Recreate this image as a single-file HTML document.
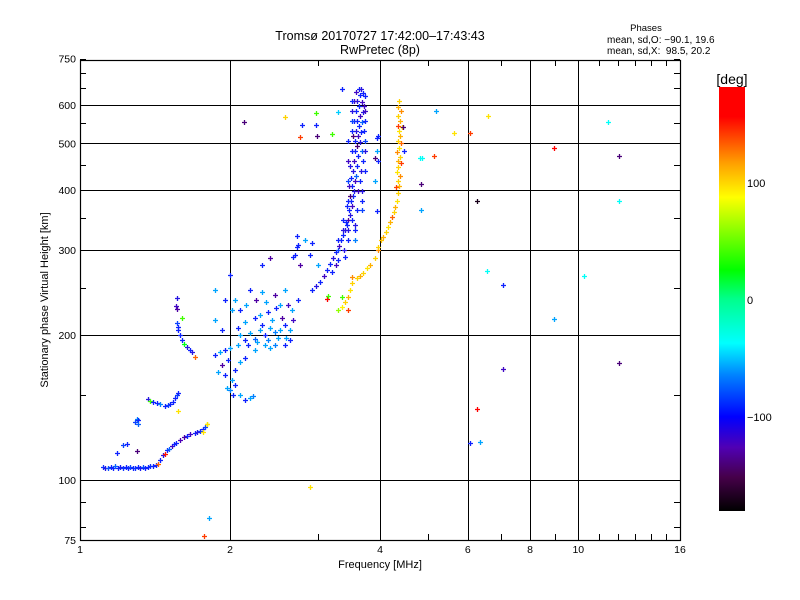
<!DOCTYPE html>
<html><head><meta charset="utf-8"><title>Ionogram</title>
<style>
html,body{margin:0;padding:0;background:#fff;}
svg{display:block;font-family:"Liberation Sans",sans-serif;}
</style></head>
<body>
<svg id="chart" width="800" height="600" viewBox="0 0 800 600">
  <defs>
    <linearGradient id="cbgrad" x1="0" y1="0" x2="0" y2="1">
      <stop offset="0" stop-color="#ff0000"/>
      <stop offset="0.07" stop-color="#ff0000"/>
      <stop offset="0.18" stop-color="#ffa000"/>
      <stop offset="0.26" stop-color="#ffff00"/>
      <stop offset="0.432" stop-color="#00ff00"/>
      <stop offset="0.5" stop-color="#00ff8c"/>
      <stop offset="0.604" stop-color="#00ffff"/>
      <stop offset="0.68" stop-color="#0082ff"/>
      <stop offset="0.778" stop-color="#0000ff"/>
      <stop offset="0.85" stop-color="#5000b4"/>
      <stop offset="0.92" stop-color="#46004a"/>
      <stop offset="1" stop-color="#000000"/>
    </linearGradient>
  </defs>
  <rect x="0" y="0" width="800" height="600" fill="#fff"/>
  <text x="380" y="40" font-size="12.5" text-anchor="middle">Tromsø 20170727 17:42:00–17:43:43</text>
  <text x="380" y="54" font-size="12.5" text-anchor="middle">RwPretec (8p)</text>
  <text x="646" y="31" font-size="9.5" text-anchor="middle">Phases</text>
  <text x="607" y="43" font-size="10">mean, sd,O: −90.1, 19.6</text>
  <text x="607" y="54" font-size="10" xml:space="preserve">mean, sd,X:  98.5, 20.2</text>
  <g id="grid"></g>
  <g id="marks"></g>
  <rect x="80.5" y="60.5" width="600" height="480" fill="none" stroke="#000" stroke-width="1.2"/>
  <g id="axes"></g>
  <text x="380" y="568" font-size="11" text-anchor="middle">Frequency [MHz]</text>
  <text x="0" y="0" font-size="11" text-anchor="middle" transform="translate(48,300) rotate(-90)">Stationary phase Virtual Height [km]</text>
  <rect x="719" y="87" width="26" height="424" fill="url(#cbgrad)"/>
  <text x="732" y="84" font-size="14" text-anchor="middle">[deg]</text>
  <g id="cbticks"></g>
</svg>
<script>
// ---- axis tick data ----
const xTickLabels = [1, 2, 4, 6, 8, 10, 16];
const xGridValues = [2, 4, 6, 8, 10];
const yTickLabels = [75, 100, 200, 300, 400, 500, 600, 750];
const yGridValues = [100, 200, 300, 400, 500, 600];
const cbTickValues = [100, 0, -100];

// ---- data: bottom O trace ----
const g1Freq = [1.112,1.125,1.138,1.152,1.165,1.178,1.192,1.205,1.22,1.234,1.248,1.262,1.277,1.292,1.307,1.322,1.338,1.353,1.369,1.385,1.401,1.418,1.434,1.447,1.468,1.48,1.495,1.51,1.53,1.545,1.557,1.587,1.62,1.64,1.661,1.701,1.72,1.741,1.762,1.782,1.8,1.187,1.22,1.24,1.30,1.765,1.80];
const g1Height = [106.5,106,106,106.5,106,107,106,106.5,106,106.5,106,106.5,106,106,106.5,106,106.5,106,106.5,107,107,107.5,108,110,112.7,113.5,115.4,116,117.6,118.5,119.3,121,122.8,123.5,124.6,125.2,125.8,126.3,127.5,128.8,131,114,118,119,115,125.8,130.7];
const g1Phase = [-95,-110,-85,-100,-100,-80,-100,-105,-95,-100,-100,-90,-100,-95,-100,-105,-85,-100,-100,-95,-100,-100,130,-100,-110,150,-100,-80,-120,-100,-100,-125,-130,-100,-120,-100,-110,-95,-100,-90,60,-100,-90,-100,-140,95,95];

// ---- data: second trace and 1.5 MHz curve ----
const g2Freq = [1.29,1.30,1.307,1.31,1.369,1.385,1.40,1.427,1.45,1.48,1.50,1.516,1.535,1.551,1.565,1.572,1.573,1.566,1.56,1.566,1.57,1.573,1.59,1.602,1.62,1.64,1.66,1.678,1.701,1.566,1.602];
const g2Height = [132,134,133,131,147,146,145.5,144.5,144,142.5,143,143.8,145.5,148,150,151.6,139,239,230,211.8,208,204.8,200,195.3,192,188.8,186,184.4,180,227,217];
const g2Phase = [-90,-70,-100,-80,-110,40,-100,-100,-70,-100,-90,-100,-100,-100,-90,-100,95,-110,-120,-90,-100,-100,-100,-100,20,-110,-100,-110,130,-130,40];

// ---- data: 2-3 MHz cluster ----
const g3Freq = [2.095,2.145,2.195,2.247,2.297,2.352,2.408,2.464,2.52,2.58,2.64,2.676,2.175,2.27,2.386,2.5,2.59,2.32,2.43,2.545,2.247,2.145,2.076,2.66,2.615,2.475,2.363,2.257,2.155,2.095,2.047,2.195,2.32,2.464,2.58,2.74,1.866,1.911,1.956,2.0,1.98,1.93,1.89,1.956,2.02,2.047,2.0,2.095,2.145,2.195,2.225,2.047,2.095,2.145,2.03,1.975,2.0,1.866,1.956,2.02,2.32,2.408,2.70,2.74,2.83,2.765,2.898,3.0,1.866,1.93,2.352,2.464,2.58,2.247,2.408,2.64,2.297,2.52,2.386,2.076];
const g3Height = [199.8,195.1,202,196.5,204.6,199.8,206.6,202.6,204.6,209.6,204.6,214.6,190.5,193.2,195.1,197,197,209.6,214.6,216.7,216.7,212.5,206.6,225.1,230.5,227.3,233.8,236.1,230.5,225.1,236.1,247.6,245.2,241.8,247.6,236.1,181.7,184.3,186,187.8,177.4,173.2,167.5,165.1,161.3,157.5,153.8,150.1,146.6,148,149.4,169.1,175.6,179,150.1,155,266,247.6,236.1,225.1,279,288.8,292.6,306.9,314.3,279,292.6,279,214.6,204.6,190.5,190.5,190.5,186,187.8,195.1,219.8,230.5,222.9,190.5];
const g3Phase = [-60,-100,-60,-80,-60,-100,-60,-70,-60,-100,-60,-120,-100,-60,-70,-60,-60,-100,-60,-130,-100,-60,-100,-60,-120,-100,-60,-130,-60,-100,-60,-100,-60,-130,-60,-100,-100,-60,-100,-60,-100,-130,-60,-100,-60,-100,-70,-60,-100,-60,-70,-100,-60,-100,-100,-60,-100,-60,-100,-60,-100,-130,-100,-100,-60,-130,-100,-60,-60,-100,-60,-70,-100,-60,-60,-100,-60,-60,-100,-60];

// ---- data: main O trace ----
const g4Freq = [2.922,2.976,3.031,3.088,3.131,3.175,3.22,3.265,3.31,3.34,3.371,3.403,3.434,3.45,3.418,3.482,3.466,3.514,3.498,3.531,3.482,3.547,3.514,3.563,3.498,3.58,3.531,3.597,3.547,3.613,3.563,3.597,3.647,3.563,3.613,3.664,3.58,3.63,3.68,3.597,3.647,3.698,3.58,3.63,3.68,3.597,3.647,3.698,3.58,3.63,3.664,3.434,3.466,3.482,3.514,3.531,3.547,3.547,3.68,3.698,3.664,3.715,3.715,3.73,3.45,3.387,3.294,3.265,3.204,3.563,3.597,3.613,3.647,
  3.514,3.514,3.514,3.514,3.73,3.73,3.73,3.73,3.73,3.45,3.45,3.45,3.45,3.68,3.68,3.68,3.371,3.371,3.294,3.294,3.563,3.563,3.45,3.514,3.4];
const g4Height = [247.6,252.8,257.7,265.2,272.4,280.9,289,297.3,306,314.3,321.9,329.7,337.6,345.8,342.5,354.1,362.7,371.4,380.4,389.6,389.6,399,408.6,418.5,423.7,428.6,438.9,449.5,460.4,471.5,482.9,494.5,503,506.5,518.7,527.8,531.2,544.1,553.7,557.2,570.7,580.8,584.4,598.6,609.3,613,629.8,636,639,648.5,649,371.4,408.6,449.5,482.9,518.7,557.2,613,482.9,460.4,438.9,531.2,598.6,627.8,314.3,299.7,285.7,279,270.3,337.6,362.7,399,418.5,
  613,584.4,557.2,531.2,584.4,557.2,506.5,482.9,438.9,506.5,460.4,418.5,380.4,399,380.4,362.7,345.8,329.7,314.3,299.7,329.7,314.3,329.7,345.8,290];
const g4Phase = [-100,-110,-100,-120,-100,-100,-110,-100,-120,-100,-100,-110,-100,-130,-100,-110,-100,-120,-100,-100,-140,-110,-100,-120,-100,-80,-110,-100,-120,-100,-100,-140,-110,-100,-120,-100,-110,-100,-80,-100,-120,-110,-100,-100,-120,-110,-100,-100,-120,-100,-110,-100,-120,-110,-100,-140,-100,-120,-80,-100,-110,-100,-120,-100,-100,-110,-100,-120,-100,-110,-100,-120,-100,
  -100,-110,-90,-100,-120,-100,-90,-110,-100,-100,-120,-90,-100,-110,-100,-90,-100,-110,-100,-90,-100,-70,-110,-100,-100];

// ---- data: X trace ----
const g5Freq = [3.294,3.356,3.403,3.45,3.482,3.514,3.514,3.597,3.647,3.698,3.766,3.82,3.91,3.964,3.964,4.019,4.056,4.112,4.15,4.19,4.228,4.267,4.29,4.327,4.347,4.307,4.367,4.347,4.387,4.327,4.347,4.407,4.347,4.387,4.327,4.367,4.407,4.347,4.387,4.367,4.428,4.347,4.387,4.347,4.407,4.347,4.367,3.356,3.45];
const g5Height = [225.1,228.7,234.2,239.8,247.6,256.5,263.9,262.7,265.2,269.1,275.5,279,289,299.7,304.6,314.3,319.5,327.2,335.2,343.2,351.6,360,368.8,380.4,394.3,405.8,408.6,418.5,428.6,436,446.6,455.1,460.4,468.5,479.7,489,500.7,506.5,518.7,531.2,540.5,544.1,557.2,570.7,584.4,594.7,613,239.8,225.1];
const g5Phase = [60,90,100,110,95,100,120,100,110,100,95,110,100,120,100,105,110,100,95,110,130,100,110,95,100,140,110,100,120,95,100,140,110,100,120,95,130,100,110,95,100,140,110,100,120,110,100,40,140];

// ---- data: scattered echoes ----
const g6Freq = [5.18,6.59,5.63,6.06,11.47,5.13,8.94,12.07,4.86,4.83,6.26,12.07,4.83,6.56,7.06,10.27,8.94,7.06,12.07,6.26,6.06,6.35,2.58,2.976,3.294,2.79,2.976,2.765,2.99,3.204,3.964,3.945,3.945,3.91,3.964,3.91,4.82,4.448,4.47,3.945,2.726,2.922,2.726,2.676,3.131,3.146,3.356,2.13,2.898,1.815,1.773];
const g6Height = [584.4,570,525,525,553.7,471.5,489,470.6,466,411.6,379.5,380.4,362.7,271.6,253.6,265.2,215.9,170,174.9,140.4,119.3,119.9,567,578,580.8,545.7,545.7,515.5,518.7,523,518.7,513,482.9,466,460.4,418.5,466,540.5,482.9,361.8,321,310.5,304.6,290.4,237.5,241,649,553.7,96.7,83.4,76.5];
const g6Phase = [-60,95,95,140,-35,140,160,-140,-35,-140,-170,-35,-60,-35,-100,-35,-60,-120,-140,170,-100,-60,100,40,-50,-100,-100,140,-140,40,-100,-100,-60,-140,-100,-60,-35,-140,-100,-100,-100,-100,-100,-100,170,40,-100,-140,95,-60,140];

const NS = 'http://www.w3.org/2000/svg';
function xScale(f) { return 80 + 150 * Math.log2(f); }
function yScale(h) { return 480 - 145 * Math.log2(h / 100); }
function cbScale(v) { return 300 - v * 1.17; }

const cmapT = [0, 0.08, 0.15, 0.222, 0.32, 0.396, 0.5, 0.568, 0.74, 0.82, 0.93, 1];
const cmapC = [[0,0,0],[70,0,74],[80,0,180],[15,35,255],[0,145,255],[0,255,255],[0,255,140],[0,255,0],[255,255,0],[255,160,0],[255,0,0],[255,0,0]];
function phaseColor(v) {
  let t = (v + 180) / 360;
  t = Math.max(0, Math.min(1, t));
  let i = 0;
  while (i < cmapT.length - 2 && t > cmapT[i + 1]) i++;
  const u = (t - cmapT[i]) / (cmapT[i + 1] - cmapT[i]);
  const a = cmapC[i], b = cmapC[i + 1];
  const c = a.map((x, k) => Math.round(x + (b[k] - x) * u));
  return 'rgb(' + c.join(',') + ')';
}

function mk(tag, attrs, parent) {
  const el = document.createElementNS(NS, tag);
  for (const k in attrs) el.setAttribute(k, attrs[k]);
  parent.appendChild(el);
  return el;
}

const grid = document.getElementById('grid');
const axes = document.getElementById('axes');
const marks = document.getElementById('marks');
const cbticks = document.getElementById('cbticks');

xGridValues.forEach(v => {
  const x = Math.round(xScale(v)) + 0.5;
  const l = mk('line', {x1: x, x2: x, y1: 60, y2: 540, stroke: '#000', 'stroke-width': 1}, grid);
  
  
});
yGridValues.forEach(v => {
  const y = Math.round(yScale(v)) + 0.5;
  const l = mk('line', {x1: 80, x2: 680, y1: y, y2: y, stroke: '#000', 'stroke-width': 1}, grid);
  
  
});

for (let f = 1; f <= 16; f++) {
  const x = Math.round(xScale(f)) + 0.5;
  const t1 = mk('line', {x1: x, x2: x, y1: 60, y2: 66, stroke: '#000'}, axes);
  
  
  const t2 = mk('line', {x1: x, x2: x, y1: 534, y2: 540, stroke: '#000'}, axes);
  
  
}
for (let h = 80; h <= 750; h += (h < 100 ? 10 : 50)) {
  const y = Math.round(yScale(h)) + 0.5;
  const t1 = mk('line', {x1: 80, x2: 86, y1: y, y2: y, stroke: '#000'}, axes);
  
  
  const t2 = mk('line', {x1: 674, x2: 680, y1: y, y2: y, stroke: '#000'}, axes);
  
  
}

xTickLabels.forEach(v => {
  const t = mk('text', {x: xScale(v), y: 553, 'font-size': 10.5, 'text-anchor': 'middle'}, axes);
  t.textContent = String(v);
  
  
});
yTickLabels.forEach(v => {
  const t = mk('text', {x: 76, y: yScale(v) + 4, 'font-size': 10.5, 'text-anchor': 'end'}, axes);
  t.textContent = String(v);
  
  
});

cbTickValues.forEach(v => {
  const y = cbScale(v);
  const t = mk('text', {x: 747, y: y + 4, 'font-size': 11}, cbticks);
  t.textContent = v < 0 ? '−' + Math.abs(v) : String(v);
  
  
});

function drawGroup(fs, hs, ps, name) {
  for (let i = 0; i < fs.length; i++) {
    const x = Math.round(xScale(fs[i])) + 0.5;
    const y = Math.round(yScale(hs[i])) + 0.5;
    const p = mk('path', {
      d: 'M' + (x - 2.5) + ' ' + y + 'h5M' + x + ' ' + (y - 2.5) + 'v5',
      stroke: phaseColor(ps[i]), 'stroke-width': 1.3, fill: 'none'
    }, marks);
    
    
  }
}
drawGroup(g1Freq, g1Height, g1Phase, 'echo-point');
drawGroup(g2Freq, g2Height, g2Phase, 'echo-point');
drawGroup(g3Freq, g3Height, g3Phase, 'echo-point');
drawGroup(g4Freq, g4Height, g4Phase, 'o-trace-point');
drawGroup(g5Freq, g5Height, g5Phase, 'x-trace-point');
drawGroup(g6Freq, g6Height, g6Phase, 'scatter-point');
</script>
</body></html>
